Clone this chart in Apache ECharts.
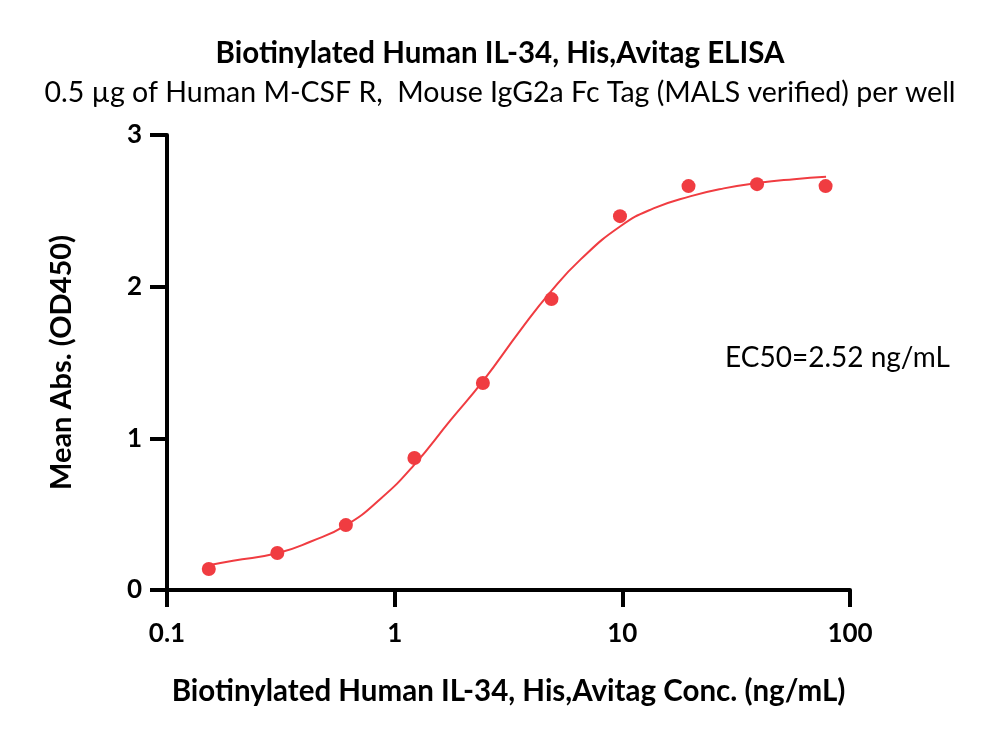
<!DOCTYPE html>
<html>
<head>
<meta charset="utf-8">
<script src="https://cdn.jsdelivr.net/npm/echarts@6/dist/echarts.min.js"></script>
<style>html,body{margin:0;padding:0;background:#fff;}#c{width:1000px;height:745px;}</style>
</head>
<body>
<div id="c"></div>
<script>
// Measured points
const conc = [0.1526, 0.3052, 0.6104, 1.221, 2.441, 4.883, 9.766, 19.53, 39.06, 78.13];
const od = [0.138, 0.244, 0.428, 0.870, 1.365, 1.918, 2.465, 2.663, 2.676, 2.663];
// Fitted curve
const curveConc = [0.1545, 0.195, 0.308, 0.426, 0.613, 0.865, 1.21, 1.76, 2.46, 3.57, 4.84, 6.56, 9.84, 13.7, 20.0, 27.9, 39.8, 56.8, 78.5];
const curveOD = [0.165, 0.193, 0.244, 0.318, 0.428, 0.600, 0.820, 1.12, 1.384, 1.714, 1.966, 2.180, 2.400, 2.516, 2.597, 2.648, 2.685, 2.709, 2.725];
const xTicks = [0.1, 1, 10, 100];
const yTicks = [0, 1, 2, 3];
const titleText = 'Biotinylated Human IL-34, His,Avitag ELISA';
const subtitleText = '0.5 µg of Human M-CSF R,  Mouse IgG2a Fc Tag (MALS verified) per well';
const xName = 'Biotinylated Human IL-34, His,Avitag Conc. (ng/mL)';
const yName = 'Mean Abs. (OD450)';
const ec50Text = 'EC50=2.52 ng/mL';

const FONT = 'Lato';
const chart = echarts.init(document.getElementById('c'), null, {renderer: 'canvas'});
const red = '#f03c41';
chart.setOption({
  backgroundColor: '#ffffff',
  animation: false,
  title: [
    {text: titleText, left: 'center', top: 33, textStyle: {fontFamily: FONT, fontWeight: 'bold', fontSize: 29.5, color: '#000'}},
    {text: subtitleText, left: 'center', top: 73, textStyle: {fontFamily: FONT, fontWeight: 'normal', fontSize: 28.5, color: '#000'}}
  ],
  grid: {left: 167, right: 150, top: 135, bottom: 155, containLabel: false},
  xAxis: {
    type: 'log', logBase: 10, min: 0.1, max: 100,
    name: xName, nameLocation: 'middle', nameGap: 86,
    nameTextStyle: {fontFamily: FONT, fontWeight: 'bold', fontSize: 29.5, color: '#000'},
    axisLine: {show: true, lineStyle: {color: '#000', width: 4}},
    axisTick: {show: true, inside: false, length: 17, lineStyle: {color: '#000', width: 4}},
    axisLabel: {fontFamily: FONT, fontWeight: 'bold', fontSize: 26, color: '#000', margin: 31,
      formatter: v => { const t = xTicks.find(k => Math.abs(k - v) / k < 1e-6); return t === undefined ? '' : String(t); }},
    splitLine: {show: false}, minorTick: {show: false}
  },
  yAxis: {
    type: 'value', min: 0, max: 3, interval: 1,
    name: yName, nameLocation: 'middle', nameGap: 91, nameRotate: 90,
    nameTextStyle: {fontFamily: FONT, fontWeight: 'bold', fontSize: 29, color: '#000'},
    axisLine: {show: true, lineStyle: {color: '#000', width: 4}},
    axisTick: {show: true, inside: false, length: 17, lineStyle: {color: '#000', width: 4}},
    axisLabel: {fontFamily: FONT, fontWeight: 'bold', fontSize: 26, color: '#000', margin: 25,
      formatter: v => yTicks.includes(v) ? String(v) : ''},
    splitLine: {show: false}
  },
  graphic: [
    {type: 'text', left: 725, top: 344, style: {text: ec50Text, fontFamily: FONT, fontSize: 28, fill: '#000'}}
  ],
  series: [
    {type: 'line', data: curveConc.map((x, i) => [x, curveOD[i]]), smooth: 0.5, showSymbol: false,
      lineStyle: {color: red, width: 2}, z: 2},
    {type: 'scatter', data: conc.map((x, i) => [x, od[i]]), symbol: 'circle', symbolSize: 14,
      itemStyle: {color: red, opacity: 1}, z: 3}
  ]
});
</script>
</body>
</html>
